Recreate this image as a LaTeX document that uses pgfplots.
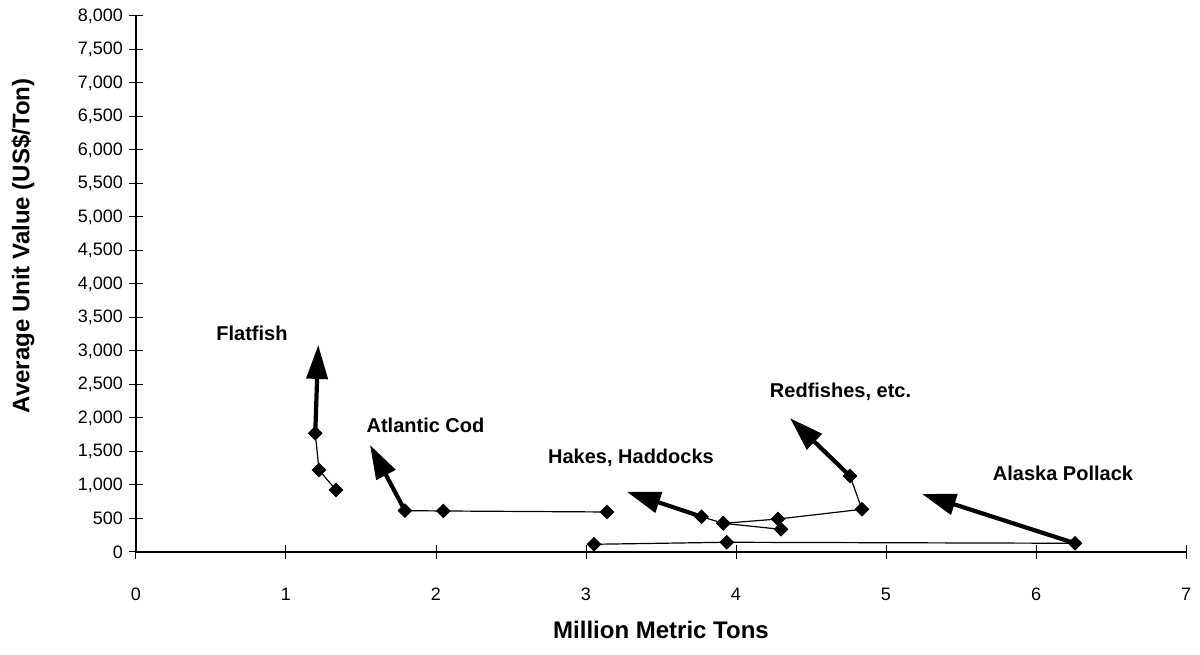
\documentclass[border=0pt]{standalone}
\usepackage{fontspec}
\setmainfont{Liberation Sans}
\usepackage{pgfplots}
\pgfplotsset{compat=1.18}
\usetikzlibrary{arrows.meta}
\begin{document}
\begin{tikzpicture}
\begin{axis}[
  scale only axis, width=525pt, height=268pt,
  xmin=0, xmax=7, ymin=0, ymax=8000,
  clip=false,
  axis x line*=bottom, axis y line*=left,
  axis line style={-, line width=0.6pt},
  xtick={0,1,...,7}, ytick={0,500,...,8000},
  scaled y ticks=false,
  tick align=center, major tick length=7pt,
  tick style={black, line width=0.5pt},
  /pgf/number format/assume math mode=true,
  yticklabel style={/pgf/number format/1000 sep={,}, font=\fontsize{9}{10}\selectfont, xshift=0.5pt},
  xticklabel style={font=\fontsize{9}{10}\selectfont, yshift=-11pt},
  xlabel={Million Metric Tons},
  ylabel={Average Unit Value (US\$/Ton)},
  label style={font=\fontsize{12}{14}\selectfont\bfseries},
  xlabel style={at={(axis description cs:0.5,-0.1455)}, anchor=center},
  ylabel style={at={(axis description cs:-0.1076,0.571)}, anchor=center},
  every axis plot/.append style={black, line width=0.6pt},
  mk/.style={mark=square*, mark size=2.3pt, mark options={rotate=45, fill=black, solid}},
  arr/.style={line width=2.1pt, no marks, -{Triangle[length=17pt,width=10.5pt]}},
]
% Flatfish
\addplot[mk] coordinates {(1.333,925) (1.22,1224) (1.195,1772)};
\addplot[arr] coordinates {(1.195,1772) (1.215,3090)};
% Atlantic Cod
\addplot[mk] coordinates {(3.14,597) (2.049,612) (1.793,617)};
\addplot[arr] coordinates {(1.793,617) (1.56,1597)};
% Alaska Pollack
\addplot[mk] coordinates {(3.053,115) (3.938,145) (6.26,130)};
\addplot[arr] coordinates {(6.26,130) (5.24,866)};
% Hakes, Haddocks
\addplot[mk] coordinates {(4.30,338) (3.915,428) (3.77,527)};
\addplot[arr] coordinates {(3.77,527) (3.271,900)};
% Redfishes, etc.
\addplot[mk] coordinates {(3.915,428) (4.28,492) (4.84,637) (4.76,1134)};
\addplot[arr] coordinates {(4.76,1134) (4.36,1997)};
% labels
\node[font=\fontsize{10}{12}\selectfont\bfseries] at (axis cs:0.773,3269) {Flatfish};
\node[font=\fontsize{10}{12}\selectfont\bfseries] at (axis cs:1.93,1895) {Atlantic Cod};
\node[font=\fontsize{10}{12}\selectfont\bfseries] at (axis cs:3.30,1403) {Hakes, Haddocks};
\node[font=\fontsize{10}{12}\selectfont\bfseries] at (axis cs:4.697,2388) {Redfishes, etc.};
\node[font=\fontsize{10}{12}\selectfont\bfseries] at (axis cs:6.18,1179) {Alaska Pollack};
\end{axis}
\pgfresetboundingbox
\useasboundingbox ([xshift=-68pt,yshift=-51.5pt]current axis.south west) rectangle ([xshift=7pt,yshift=8pt]current axis.north east);
\end{tikzpicture}
\end{document}
